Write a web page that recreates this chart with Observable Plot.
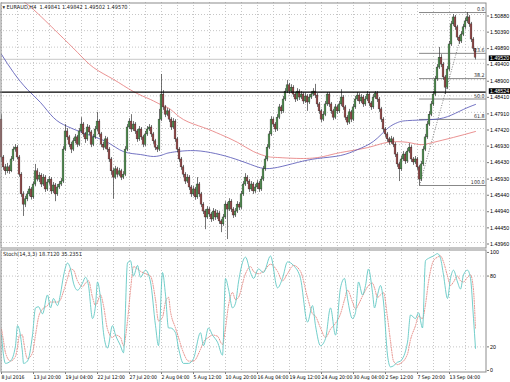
<!DOCTYPE html>
<html><head><meta charset="utf-8">
<script src="https://cdn.jsdelivr.net/npm/d3@7"></script>
<script src="https://cdn.jsdelivr.net/npm/@observablehq/plot@0.6"></script>
<style>
body{margin:0;background:#fff;}
#chart{width:510px;height:382px;position:relative;overflow:hidden;background:#fff;}
#chart svg{display:block;}
</style></head><body><div id="chart"></div>
<script>
// ---------- DATA ----------
const header = "\u25BE EURAUD,H4  1.49841 1.49842 1.49502 1.49570";
const stochTitle = "Stoch(14,3,3) 18.7120 35.2351";
const firstOpen = 1.4769;
const closes = [1.4654,1.4624,1.4612,1.4624,1.4612,1.4648,1.4678,1.4684,1.4654,1.4602,
1.4542,1.4511,1.4527,1.4542,1.4557,1.4533,1.4572,1.4612,1.4587,1.4599,
1.4572,1.4593,1.4557,1.4578,1.4587,1.4551,1.4569,1.4542,1.4563,1.4572,
1.4581,1.4678,1.4733,1.4715,1.4693,1.4678,1.4703,1.4715,1.4693,1.4733,
1.4754,1.4724,1.4709,1.4745,1.4730,1.4693,1.4715,1.4739,1.4763,1.4724,
1.4693,1.4684,1.4709,1.4678,1.4648,1.4612,1.4593,1.4618,1.4602,1.4612,
1.4593,1.4602,1.4678,1.4745,1.4763,1.4739,1.4754,1.4733,1.4709,1.4739,
1.4715,1.4693,1.4724,1.4739,1.4745,1.4724,1.4703,1.4684,1.4678,1.4769,
1.4845,1.4806,1.4784,1.4794,1.4769,1.4745,1.4763,1.4709,1.4678,1.4648,
1.4624,1.4602,1.4581,1.4593,1.4563,1.4542,1.4557,1.4533,1.4572,1.4542,
1.4511,1.4490,1.4472,1.4496,1.4481,1.4466,1.4490,1.4472,1.4484,1.4460,
1.4451,1.4472,1.4511,1.4496,1.4520,1.4496,1.4478,1.4490,1.4511,1.4502,
1.4542,1.4572,1.4593,1.4581,1.4557,1.4572,1.4551,1.4563,1.4575,1.4557,
1.4587,1.4618,1.4648,1.4684,1.4724,1.4769,1.4754,1.4739,1.4775,1.4806,
1.4794,1.4830,1.4854,1.4873,1.4854,1.4866,1.4845,1.4830,1.4854,1.4836,
1.4845,1.4824,1.4839,1.4821,1.4836,1.4845,1.4854,1.4842,1.4815,1.4794,
1.4769,1.4784,1.4815,1.4845,1.4815,1.4794,1.4775,1.4806,1.4794,1.4815,
1.4836,1.4806,1.4775,1.4760,1.4791,1.4769,1.4806,1.4830,1.4842,1.4824,
1.4836,1.4815,1.4830,1.4845,1.4818,1.4806,1.4836,1.4848,1.4830,1.4800,
1.4769,1.4739,1.4724,1.4709,1.4700,1.4709,1.4693,1.4663,1.4633,1.4618,
1.4648,1.4663,1.4642,1.4672,1.4684,1.4648,1.4639,1.4648,1.4624,1.4587,
1.4633,1.4678,1.4715,1.4754,1.4784,1.4815,1.4845,1.4891,1.4927,1.4957,
1.4936,1.4897,1.4866,1.4921,1.4997,1.5058,1.5079,1.5049,1.5018,1.5006,
1.5027,1.5049,1.5067,1.5079,1.5058,1.5012,1.4984,1.4957];
const highs = [1.4784,1.4660,1.4633,1.4636,1.4630,1.4657,1.4686,1.4693,1.4690,1.4660,
1.4608,1.4550,1.4536,1.4551,1.4566,1.4563,1.4580,1.4633,1.4620,1.4608,
1.4605,1.4602,1.4599,1.4587,1.4596,1.4593,1.4578,1.4575,1.4572,1.4581,
1.4590,1.4687,1.4754,1.4742,1.4721,1.4700,1.4712,1.4724,1.4721,1.4742,
1.4775,1.4760,1.4730,1.4754,1.4751,1.4736,1.4724,1.4748,1.4791,1.4769,
1.4730,1.4700,1.4718,1.4715,1.4684,1.4654,1.4621,1.4627,1.4624,1.4621,
1.4618,1.4611,1.4687,1.4754,1.4772,1.4784,1.4763,1.4760,1.4739,1.4748,
1.4745,1.4721,1.4733,1.4748,1.4754,1.4751,1.4730,1.4709,1.4690,1.4800,
1.4906,1.4857,1.4812,1.4803,1.4800,1.4775,1.4772,1.4769,1.4715,1.4684,
1.4654,1.4630,1.4608,1.4602,1.4599,1.4569,1.4566,1.4563,1.4593,1.4578,
1.4548,1.4517,1.4496,1.4505,1.4502,1.4487,1.4499,1.4496,1.4493,1.4490,
1.4466,1.4481,1.4520,1.4517,1.4529,1.4526,1.4502,1.4499,1.4520,1.4517,
1.4551,1.4581,1.4605,1.4599,1.4587,1.4581,1.4578,1.4572,1.4584,1.4581,
1.4596,1.4627,1.4657,1.4693,1.4733,1.4778,1.4775,1.4760,1.4784,1.4815,
1.4812,1.4839,1.4863,1.4888,1.4879,1.4875,1.4872,1.4851,1.4863,1.4860,
1.4854,1.4851,1.4848,1.4845,1.4845,1.4854,1.4863,1.4876,1.4848,1.4821,
1.4800,1.4793,1.4824,1.4851,1.4851,1.4821,1.4800,1.4815,1.4812,1.4824,
1.4860,1.4842,1.4812,1.4781,1.4800,1.4797,1.4815,1.4839,1.4851,1.4848,
1.4845,1.4842,1.4839,1.4854,1.4851,1.4824,1.4845,1.4854,1.4854,1.4836,
1.4806,1.4775,1.4745,1.4730,1.4715,1.4718,1.4715,1.4699,1.4669,1.4639,
1.4657,1.4672,1.4669,1.4681,1.4696,1.4690,1.4654,1.4657,1.4654,1.4630,
1.4642,1.4687,1.4724,1.4763,1.4793,1.4824,1.4854,1.4900,1.4936,1.4988,
1.4966,1.4942,1.4903,1.4930,1.5006,1.5067,1.5088,1.5085,1.5055,1.5024,
1.5036,1.5058,1.5076,1.5094,1.5085,1.5064,1.5018,1.4984];
const lows = [1.4639,1.4615,1.4600,1.4605,1.4603,1.4608,1.4642,1.4670,1.4647,1.4594,
1.4533,1.4475,1.4502,1.4520,1.4535,1.4525,1.4527,1.4565,1.4580,1.4578,
1.4563,1.4566,1.4548,1.4551,1.4570,1.4542,1.4545,1.4520,1.4536,1.4557,
1.4566,1.4575,1.4672,1.4706,1.4684,1.4666,1.4672,1.4696,1.4684,1.4687,
1.4727,1.4715,1.4697,1.4703,1.4721,1.4684,1.4687,1.4709,1.4733,1.4715,
1.4684,1.4675,1.4678,1.4669,1.4639,1.4600,1.4527,1.4587,1.4593,1.4596,
1.4584,1.4587,1.4596,1.4672,1.4739,1.4730,1.4733,1.4724,1.4700,1.4703,
1.4706,1.4684,1.4687,1.4718,1.4733,1.4715,1.4694,1.4675,1.4669,1.4672,
1.4763,1.4797,1.4775,1.4778,1.4760,1.4736,1.4739,1.4700,1.4669,1.4639,
1.4615,1.4593,1.4572,1.4575,1.4554,1.4533,1.4536,1.4524,1.4527,1.4533,
1.4502,1.4481,1.4435,1.4466,1.4472,1.4457,1.4460,1.4463,1.4466,1.4451,
1.4426,1.4445,1.4466,1.4405,1.4490,1.4487,1.4469,1.4472,1.4484,1.4493,
1.4496,1.4536,1.4566,1.4572,1.4548,1.4551,1.4542,1.4545,1.4557,1.4548,
1.4551,1.4581,1.4612,1.4642,1.4678,1.4718,1.4745,1.4730,1.4733,1.4769,
1.4785,1.4788,1.4824,1.4848,1.4845,1.4848,1.4836,1.4821,1.4824,1.4827,
1.4830,1.4815,1.4818,1.4794,1.4815,1.4830,1.4839,1.4833,1.4806,1.4785,
1.4760,1.4763,1.4778,1.4809,1.4806,1.4785,1.4766,1.4769,1.4785,1.4788,
1.4809,1.4797,1.4766,1.4751,1.4754,1.4760,1.4763,1.4800,1.4824,1.4815,
1.4818,1.4806,1.4809,1.4824,1.4809,1.4797,1.4800,1.4830,1.4821,1.4791,
1.4760,1.4730,1.4715,1.4700,1.4691,1.4694,1.4684,1.4654,1.4624,1.4581,
1.4612,1.4642,1.4633,1.4636,1.4666,1.4639,1.4630,1.4633,1.4615,1.4569,
1.4581,1.4627,1.4672,1.4709,1.4748,1.4778,1.4809,1.4839,1.4885,1.4921,
1.4927,1.4888,1.4845,1.4860,1.4915,1.4991,1.5052,1.5040,1.5009,1.4997,
1.5000,1.5021,1.5043,1.5061,1.5049,1.5003,1.4975,1.4950];

// moving averages (bar index, value)
const redIdx = [3.5,9.5,16,28,38,46,56,66,74.5,79.5,84.5,91,101,109.5,118,126,133,138,151,161,169.5,183,193,203,209.5,216,226,237];
const redVal = [1.5164,1.5134,1.5103,1.5033,1.4973,1.4927,1.4891,1.4854,1.4830,1.4815,1.4800,1.4769,1.4745,1.4724,1.4700,1.4672,1.4657,1.4654,1.4651,1.4657,1.4669,1.4684,1.4700,1.4700,1.4693,1.4700,1.4715,1.4733];
const blueIdx = [0,6,13,19.5,26,33,43,53,61,69.5,76,81,84.5,94.5,104.5,114.5,124.5,131,138,148,158,169.5,178,186,193,198,203,214.5,223,231,237];
const blueVal = [1.4967,1.4912,1.4860,1.4821,1.4775,1.4748,1.4724,1.4700,1.4672,1.4663,1.4657,1.4663,1.4669,1.4675,1.4669,1.4654,1.4633,1.4621,1.4624,1.4639,1.4651,1.4660,1.4678,1.4703,1.4742,1.4760,1.4766,1.4769,1.4778,1.4800,1.4815];

// stochastic (bar index, %K, %D)
const stochIdx = [0,1,2,4.5,7,8,9,10.5,11,13,15.5,17,18.5,20.5,23,24.5,26,28,29.5,31,33,34.5,36,38,40.5,42,43.5,45.5,47,48,49.5,51,53,55.5,57,59.5,61,63,64.5,66,68,69.5,72,74.5,77,78.5,80.5,82,83.5,84.5,87,88.5,91,93.5,96,99.5,101,103.5,105.5,108,110.5,112,113.5,115.5,117,118.5,122,124.5,126,128.5,131,134.5,138,140.5,143,146,149.5,153,155.5,157,159.5,162,164.5,167,169.5,171.5,173,175.5,177,178.5,180.5,182,183.5,185.5,186.5,188,189.5,191,193,194.5,196,198,199.5,203,204.5,207,208.5,210.5,212,213.5,216,218,219.5,221,223,224.5,226,228,229.5,231,233,234.5,236,237];
const stochK = [30,13,6,8,21,38,34,15,6,8,30,53,54,48,64,53,61,55,65,80,91,86,74,68,74,79,72,44,55,75,61,32,19,38,30,21,15,91,93,80,89,79,85,75,38,21,83,64,36,36,32,19,6,6,10,32,21,36,30,24,13,78,69,53,57,75,96,83,78,86,83,97,70,78,92,89,78,41,55,38,21,27,53,30,70,78,61,44,49,75,64,72,86,66,53,64,72,58,13,3,4,7,8,24,47,44,49,36,93,95,97,99,95,81,61,78,85,75,69,81,85,78,44,18.712];
const stochD = [35,25,15,8,12,20,30,30,25,10,15,30,45,52,55,58,58,58,60,67,78,86,85,76,71,74,76,62,55,58,64,55,35,28,30,28,21,42,68,88,86,84,82,80,60,42,45,58,62,50,36,28,15,8,8,18,24,28,30,29,22,36,55,66,60,62,82,88,84,82,84,90,84,76,82,89,84,62,48,46,36,28,35,40,48,60,68,58,52,56,63,68,72,74,70,62,64,66,45,25,8,5,6,14,26,38,46,44,56,75,93,96,97,92,80,72,75,80,76,75,79,81,68,35.235];

// levels and axes
const priceTicks = [1.50880,1.50390,1.49890,1.49400,1.48900,1.48410,1.47910,1.47420,1.46930,1.46430,1.45930,1.45440,1.44940,1.44450,1.43960];
const bidPrice = 1.49520;
const hLevel = 1.48524;
const fibLevels = [0, 23.6, 38.2, 50, 61.8, 100];
const fibHigh = 1.5094, fibLow = 1.4569, fibLowIdx = 209, fibHighIdx = 233;
const stochTicks = [0, 20, 80, 100];
const stochLevels = [20, 80];
const timeTickIdx = [0,16,32,48,64,80,96,112,128,144,160,176,192,208,224];
const timeLabels = ["8 Jul 2016","13 Jul 20:00","19 Jul 04:00","22 Jul 12:00","27 Jul 20:00","2 Aug 04:00","5 Aug 12:00","10 Aug 20:00","16 Aug 04:00","19 Aug 12:00","24 Aug 20:00","30 Aug 04:00","2 Sep 12:00","7 Sep 20:00","13 Sep 04:00"];

// ---------- BUILD ----------
const xDomain = [-0.5, 242.5];
const priceDomain = [1.437783, 1.512442];
const stochDomain = [-1.7, 102.5];
const FONT = "'Liberation Sans', Arial, sans-serif";
const FONT_N = "'Liberation Sans Narrow', 'DejaVu Sans Condensed', 'Liberation Sans', sans-serif";
const FS = 5.3;
const gridCol = "#c6c6c6";
const bull = "#55a055", bear = "#a84c4c";

const bars = closes.map((c, i) => ({i, open: i ? closes[i - 1] : firstOpen, close: c, high: highs[i], low: lows[i]}));
const gridIdx = d3.range(0, 240, 8);
const fib = fibLevels.map(l => ({level: l, price: fibHigh - (fibHigh - fibLow) * l / 100}));
const redMA = redIdx.map((x, k) => ({x, y: redVal[k]}));
const blueMA = blueIdx.map((x, k) => ({x, y: blueVal[k]}));
const stoch = stochIdx.map((x, k) => ({x, k: stochK[k], d: stochD[k]}));
const style = {fontFamily: FONT, fontSize: FS + "px", background: "white", color: "black", overflow: "visible"};

const pricePlot = Plot.plot({
  width: 510, height: 249,
  marginLeft: 0, marginRight: 24, marginTop: 2, marginBottom: 1,
  x: {domain: xDomain, axis: null},
  y: {domain: priceDomain},
  style,
  marks: [
    Plot.ruleX(gridIdx, {stroke: gridCol, strokeDasharray: "1,2"}),
    Plot.ruleY(priceTicks, {stroke: gridCol, strokeDasharray: "1,2"}),
    Plot.ruleY([bidPrice], {stroke: "#c8c8c8"}),
    Plot.ruleY(fib, {y: "price", x1: () => fibLowIdx, x2: () => xDomain[1], stroke: "#7a7a7a", strokeWidth: 0.9}),
    Plot.link([{a: fibLowIdx, b: fibLow, c: fibHighIdx, d: fibHigh}], {x1: "a", y1: "b", x2: "c", y2: "d", stroke: "#777", strokeDasharray: "1,1.5", strokeWidth: 0.9}),
    Plot.line(redMA, {x: "x", y: "y", stroke: "#e36e6e", strokeWidth: 0.75, curve: "natural", clip: true}),
    Plot.line(blueMA, {x: "x", y: "y", stroke: "#5050b4", strokeWidth: 0.8, curve: "natural", clip: true}),
    Plot.ruleX(bars, {x: "i", y1: "low", y2: "high", stroke: "#3a3a3a", strokeWidth: 0.7}),
    Plot.rect(bars, {x1: d => d.i - 0.45, x2: d => d.i + 0.45, y1: "open", y2: "close",
      fill: d => d.close >= d.open ? bull : bear, stroke: "#222", strokeWidth: 0.35}),
    Plot.ruleY([hLevel], {stroke: "black", strokeWidth: 1.3}),
    Plot.text(fib, {y: "price", text: d => d.level.toFixed(1), frameAnchor: "right", textAnchor: "end", dx: -2, dy: -3, fill: "#333", fontSize: FS, fontFamily: FONT_N}),
    Plot.axisY({anchor: "right", ticks: priceTicks, tickFormat: d => d.toFixed(5), tickSize: 2, tickPadding: 1.5, dy: 1.5, label: null, fontSize: FS, fill: "black", stroke: "#777"}),
    Plot.text([bidPrice, hLevel], {y: d => d, text: d => d.toFixed(5), frameAnchor: "right", textAnchor: "start", dx: 3.5, dy: -0.8, fill: "white", fontSize: FS, className: "hl"}),
    Plot.text([header], {frameAnchor: "top-left", dx: 2, dy: 2.5, textAnchor: "start", lineAnchor: "top", fill: "#222", fontSize: 5.6, fontFamily: FONT_N}),
    Plot.frame({stroke: "#8c8c8c", inset: 0.5})
  ]
});

const stochPlot = Plot.plot({
  width: 510, height: 133,
  marginLeft: 0, marginRight: 24, marginTop: 0, marginBottom: 10,
  x: {domain: xDomain},
  y: {domain: stochDomain},
  style,
  marks: [
    Plot.ruleX(gridIdx, {stroke: gridCol, strokeDasharray: "1,2"}),
    Plot.ruleY(stochLevels, {stroke: gridCol, strokeDasharray: "1,2"}),
    Plot.line(stoch, {x: "x", y: "d", stroke: "#e3817a", strokeWidth: 0.9, strokeDasharray: "1,1.4", curve: "monotone-x"}),
    Plot.line(stoch, {x: "x", y: "k", stroke: "#62c8c4", strokeWidth: 0.9, curve: "monotone-x"}),
    Plot.axisY({anchor: "right", ticks: stochTicks, tickSize: 2, tickPadding: 1.5, label: null, fontSize: FS, fill: "black", stroke: "#777"}),
    Plot.axisX({anchor: "bottom", ticks: timeTickIdx, tickFormat: d => timeLabels[timeTickIdx.indexOf(d)], textAnchor: "start", tickSize: 2, tickPadding: 1, label: null, fontSize: 5.1, fontFamily: FONT_N, fill: "black", stroke: "#777"}),
    Plot.text([stochTitle], {frameAnchor: "top-left", dx: 2.5, dy: 2.5, textAnchor: "start", lineAnchor: "top", fill: "#222", fontSize: 5.6, fontFamily: FONT_N}),
    Plot.frame({stroke: "#8c8c8c", inset: 0.5})
  ]
});

const chart = document.getElementById("chart");
chart.appendChild(pricePlot);
chart.appendChild(stochPlot);

// black boxes behind highlighted price labels
const ns = "http://www.w3.org/2000/svg";
pricePlot.querySelectorAll("g.hl text").forEach(t => {
  const b = t.getBBox();
  const r = document.createElementNS(ns, "rect");
  r.setAttribute("x", b.x - 1.2);
  r.setAttribute("y", b.y + 0.2);
  r.setAttribute("width", b.width + 2.4);
  r.setAttribute("height", b.height - 0.4);
  r.setAttribute("fill", "black");
  if (t.getAttribute("transform")) r.setAttribute("transform", t.getAttribute("transform"));
  t.parentNode.insertBefore(r, t);
});
</script></body></html>
